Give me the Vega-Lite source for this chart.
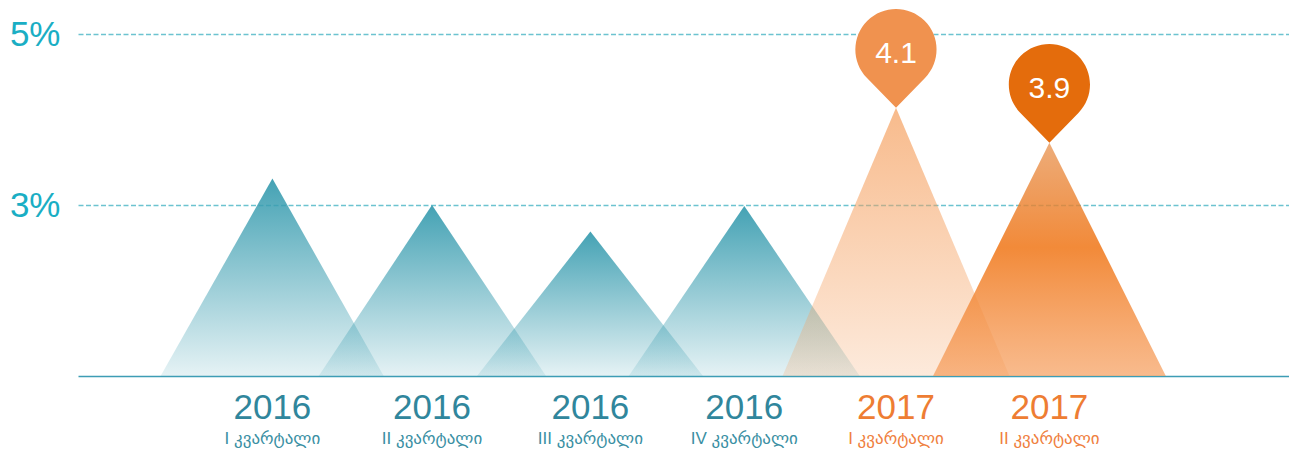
{
  "$schema": "https://vega.github.io/schema/vega-lite/v6.json",
  "autosize": {"type": "none"},
  "padding": {"left": 78, "top": 0, "right": 0, "bottom": 76},
  "width": 1211,
  "height": 376,
  "background": "white",
  "config": {"view": {"stroke": null}, "font": "Liberation Sans"},
  "datasets": {
    "tri": [
      {"q": "2016-I", "g": "2016", "x": 0.826, "y": 1},
      {"q": "2016-I", "g": "2016", "x": 1.944, "y": 3.31},
      {"q": "2016-I", "g": "2016", "x": 3.057, "y": 1},
      {"q": "2016-II", "g": "2016", "x": 2.407, "y": 1},
      {"q": "2016-II", "g": "2016", "x": 3.54, "y": 3.0},
      {"q": "2016-II", "g": "2016", "x": 4.68, "y": 1},
      {"q": "2016-III", "g": "2016", "x": 3.99, "y": 1},
      {"q": "2016-III", "g": "2016", "x": 5.124, "y": 2.69},
      {"q": "2016-III", "g": "2016", "x": 6.25, "y": 1},
      {"q": "2016-IV", "g": "2016", "x": 5.507, "y": 1},
      {"q": "2016-IV", "g": "2016", "x": 6.663, "y": 2.99},
      {"q": "2016-IV", "g": "2016", "x": 7.817, "y": 1},
      {"q": "2017-I", "g": "2017", "x": 7.046, "y": 1},
      {"q": "2017-I", "g": "2017", "x": 8.18, "y": 4.14},
      {"q": "2017-I", "g": "2017", "x": 9.315, "y": 1},
      {"q": "2017-II", "g": "2017", "x": 8.55, "y": 1},
      {"q": "2017-II", "g": "2017", "x": 9.714, "y": 3.73},
      {"q": "2017-II", "g": "2017", "x": 10.878, "y": 1}
    ],
    "quarters": [
      {"q": "2016-I", "year": "2016", "quarter": "I კვარტალი", "x": 1.944, "y": 3.31},
      {"q": "2016-II", "year": "2016", "quarter": "II კვარტალი", "x": 3.54, "y": 3.0},
      {"q": "2016-III", "year": "2016", "quarter": "III კვარტალი", "x": 5.124, "y": 2.69},
      {"q": "2016-IV", "year": "2016", "quarter": "IV კვარტალი", "x": 6.663, "y": 2.99},
      {"q": "2017-I", "year": "2017", "quarter": "I კვარტალი", "x": 8.18, "y": 4.14, "pin": "4.1"},
      {"q": "2017-II", "year": "2017", "quarter": "II კვარტალი", "x": 9.714, "y": 3.73, "pin": "3.9"}
    ]
  },
  "resolve": {"scale": {"color": "independent"}},
  "layer": [
    {
      "data": {"name": "tri"},
      "transform": [{"filter": "datum.g == '2016'"}],
      "mark": {
        "type": "area",
        "color": {
          "gradient": "linear", "x1": 0, "y1": 0, "x2": 0, "y2": 1,
          "stops": [
            {"offset": 0, "color": "rgba(58,157,176,0.95)"},
            {"offset": 1, "color": "rgba(58,157,176,0.13)"}
          ]
        }
      },
      "encoding": {
        "x": {"field": "x", "type": "quantitative", "scale": {"domain": [0, 12.11], "nice": false, "zero": false},
              "axis": {"title": null, "labels": false, "ticks": false, "grid": false, "domain": true, "domainColor": "#3d9db5", "domainWidth": 1.5}},
        "y": {"field": "y", "type": "quantitative", "stack": null, "scale": {"domain": [1, 5.4], "nice": false, "zero": false},
              "axis": {"title": null, "values": [3, 5], "labelExpr": "datum.value + '%'", "labelFontSize": 35, "labelColor": "#1aaec4", "labelFont": "Liberation Sans", "labelPadding": 18, "ticks": false, "domain": false, "grid": true, "gridDash": [5, 2.5], "gridColor": "#6cc3d0", "gridWidth": 1.5, "gridOpacity": 1}},
        "y2": {"datum": 1},
        "detail": {"field": "q"}
      }
    },
    {
      "data": {"name": "tri"},
      "transform": [{"filter": "datum.q == '2017-I'"}],
      "mark": {
        "type": "area",
        "color": {
          "gradient": "linear", "x1": 0, "y1": 0, "x2": 0, "y2": 1,
          "stops": [
            {"offset": 0, "color": "rgba(245,160,95,0.72)"},
            {"offset": 1, "color": "rgba(245,160,95,0.22)"}
          ]
        }
      },
      "encoding": {
        "x": {"field": "x", "type": "quantitative"},
        "y": {"field": "y", "type": "quantitative", "stack": null},
        "y2": {"datum": 1}
      }
    },
    {
      "data": {"name": "tri"},
      "transform": [{"filter": "datum.q == '2017-II'"}],
      "mark": {
        "type": "area",
        "color": {
          "gradient": "linear", "x1": 0, "y1": 0, "x2": 0, "y2": 1,
          "stops": [
            {"offset": 0, "color": "rgba(228,128,50,0.65)"},
            {"offset": 0.45, "color": "rgba(241,128,40,0.92)"},
            {"offset": 1, "color": "rgba(245,150,80,0.65)"}
          ]
        }
      },
      "encoding": {
        "x": {"field": "x", "type": "quantitative"},
        "y": {"field": "y", "type": "quantitative", "stack": null},
        "y2": {"datum": 1}
      }
    },
    {
      "data": {"name": "quarters"},
      "transform": [{"filter": "isValid(datum.pin)"}],
      "mark": {"type": "point", "shape": "M0,0L-0.714,-0.731A1,1,0,1,1,0.714,-0.731Z", "size": 6593, "filled": true, "opacity": 1, "strokeWidth": 0},
      "encoding": {
        "x": {"field": "x", "type": "quantitative"},
        "y": {"field": "y", "type": "quantitative"},
        "color": {"field": "q", "type": "nominal", "scale": {"domain": ["2017-I", "2017-II"], "range": ["#f0924f", "#e46c0c"]}, "legend": null}
      }
    },
    {
      "data": {"name": "quarters"},
      "transform": [{"filter": "isValid(datum.pin)"}],
      "mark": {"type": "text", "dy": -54, "fontSize": 30, "font": "Liberation Sans", "color": "white", "baseline": "middle", "align": "center"},
      "encoding": {
        "x": {"field": "x", "type": "quantitative"},
        "y": {"field": "y", "type": "quantitative"},
        "text": {"field": "pin"}
      }
    },
    {
      "data": {"name": "quarters"},
      "mark": {"type": "text", "dy": 43, "fontSize": 35, "font": "Liberation Sans", "baseline": "alphabetic", "align": "center"},
      "encoding": {
        "x": {"field": "x", "type": "quantitative"},
        "y": {"datum": 1},
        "text": {"field": "year"},
        "color": {"field": "year", "type": "nominal", "scale": {"domain": ["2016", "2017"], "range": ["#30869c", "#ee7d33"]}, "legend": null}
      }
    },
    {
      "data": {"name": "quarters"},
      "mark": {"type": "text", "dy": 68, "fontSize": 17, "font": "Liberation Sans, DejaVu Sans", "baseline": "alphabetic", "align": "center"},
      "encoding": {
        "x": {"field": "x", "type": "quantitative"},
        "y": {"datum": 1},
        "text": {"field": "quarter"},
        "color": {"field": "year", "type": "nominal", "scale": {"domain": ["2016", "2017"], "range": ["#3a8fa3", "#ef8040"]}, "legend": null}
      }
    }
  ]
}
